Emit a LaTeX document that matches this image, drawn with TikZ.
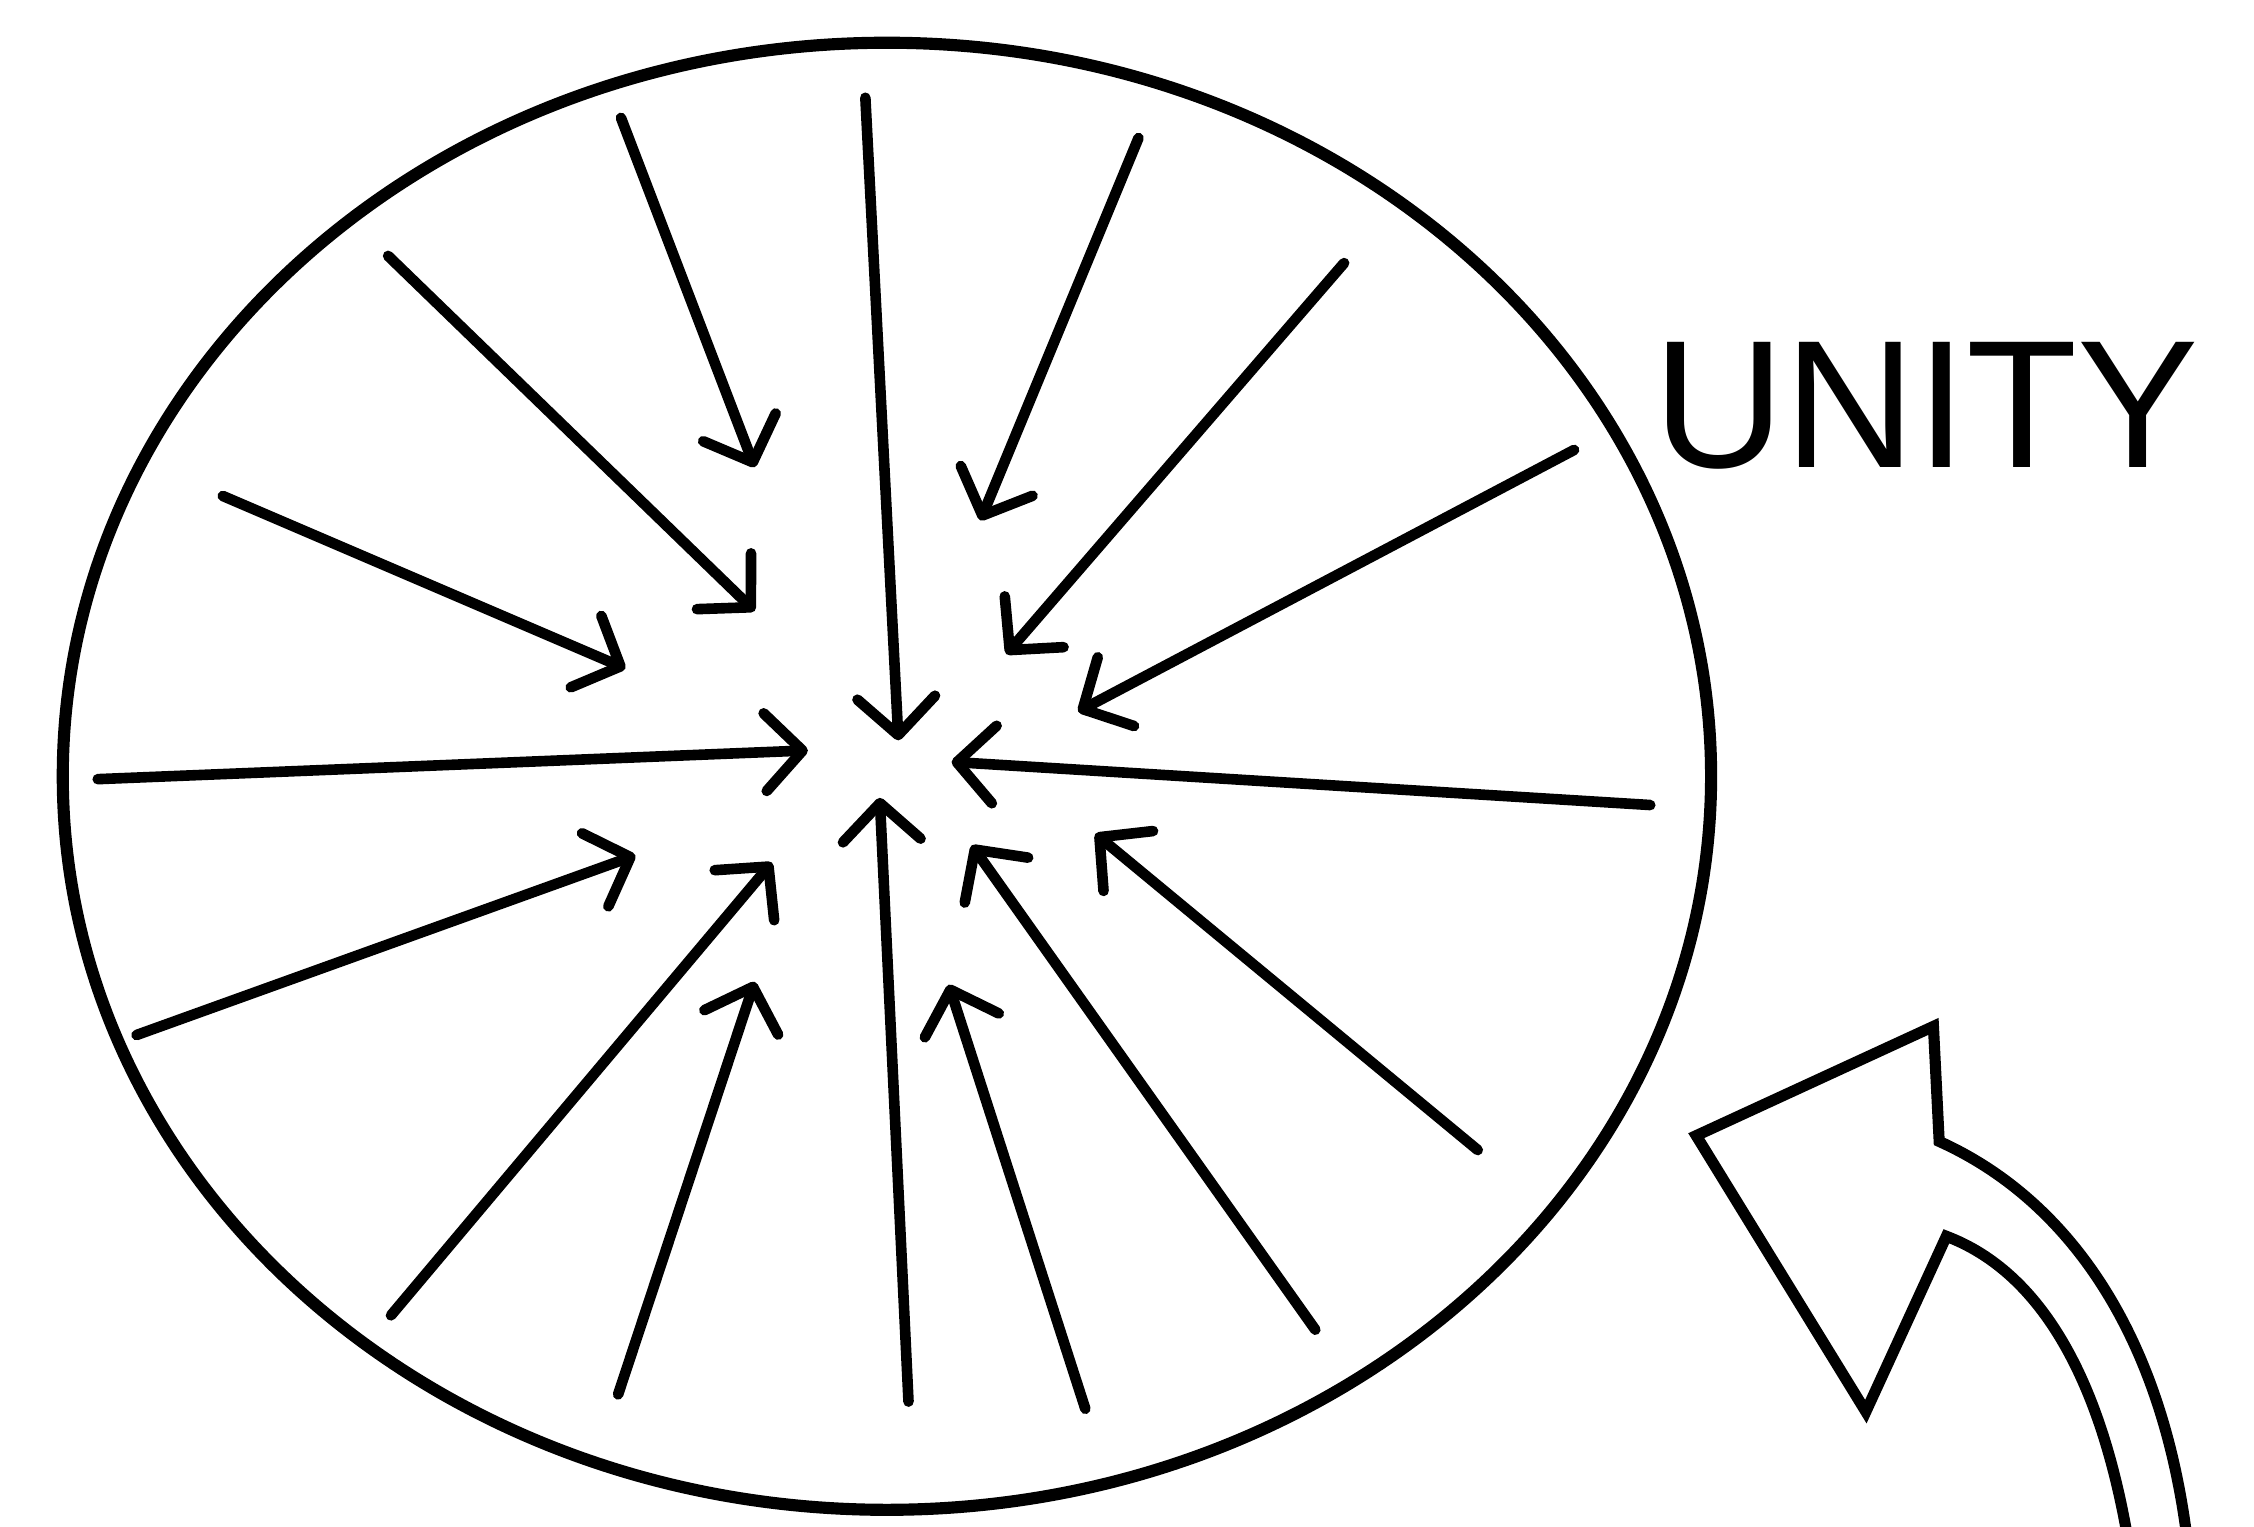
\documentclass[tikz,border=0pt]{standalone}
\usepackage{fontspec}
\setmainfont{Liberation Sans}
\usetikzlibrary{arrows.meta, shapes.geometric}
\tikzset{
  rim/.style={draw, ellipse, line width=2.4pt, minimum width=11.46cm,
              minimum height=10.2cm, inner sep=0pt},
  ray/.style={line width=2.1pt, line cap=round,
              -{Straight Barb[length=2.6mm, width=5.4mm, round]}},
  hollow/.style={line width=2.2pt, line join=miter, line cap=round},
  unitytext/.style={font=\fontsize{36}{40}\selectfont, inner sep=0pt},
}

\begin{document}
\begin{tikzpicture}[x=0.01cm, y=-0.01cm]
  \useasboundingbox (0,0) rectangle (1568,1062);

  \node[rim] (whole) at (617,540) {};
  \node[unitytext, anchor=base] (unity) at (1340,325) {UNITY};

  % rays pulling in toward the middle
  \foreach \i/\sx/\sy/\ex/\ey in {
      1/432/82/525/325,     2/602/68/625/515,     3/792/96/682/362,
      4/270/178/525/425,    5/935/183/700/455,    6/155/345/435/465,
      7/1095/313/750/495,   8/68/542/562/522,     9/1148/560/662/530,
      10/95/720/442/595,    11/1028/800/762/580,  12/272/915/537/600,
      13/430/970/525/683,   14/632/975/612/555,   15/755/980/660/685,
      16/915/925/676/588}
  {
    \coordinate (tail\i) at (\sx,\sy);
    \coordinate (tip\i) at (\ex,\ey);
    \draw[ray] (tail\i) -- (tip\i);
  }

  % big open arrow, bottom right
  \draw[hollow] (1481,1075) .. controls (1462,960) and (1420,885) .. (1354,860)
    -- (1298,982) -- (1180,790) -- (1345,714) -- (1349,794)
    .. controls (1440,835) and (1505,930) .. (1522,1075);
\end{tikzpicture}
\end{document}
